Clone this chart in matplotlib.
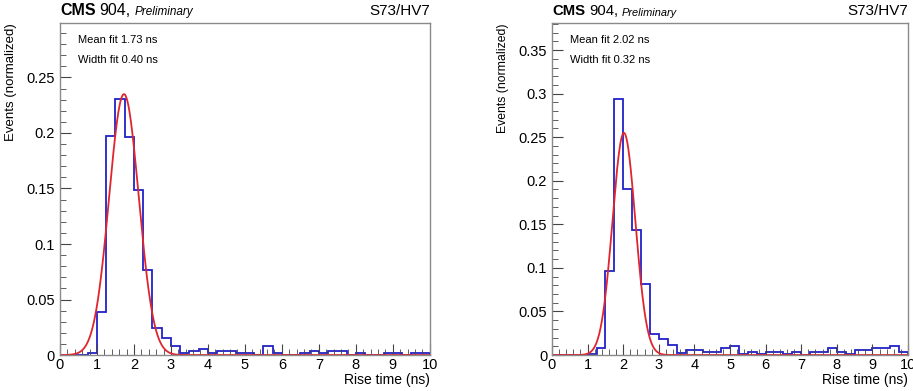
"""Rise-time distributions with gaussian fits (two sensors, S73/HV7)."""
import numpy as np
import matplotlib
matplotlib.use("Agg")
import matplotlib.pyplot as plt
from matplotlib.ticker import MultipleLocator
from matplotlib.transforms import offset_copy

plt.rcParams["font.family"] = ["Liberation Sans", "DejaVu Sans"]

# --- data: 40 bins of 0.25 ns from 0 to 10 ns ---
bin_edges = np.linspace(0, 10, 41)

left_counts = [
    0, 0, 0, 0.0015, 0.0385, 0.197, 0.2305, 0.196,
    0.149, 0.0766, 0.024, 0.0156, 0.0081, 0.0021, 0.0036, 0.0057,
    0.0015, 0.0036, 0.0036, 0.0015, 0.0015, 0, 0.0078, 0.0015,
    0, 0, 0.0015, 0.0036, 0.0015, 0.0036, 0.0036, 0,
    0.0015, 0, 0, 0.0015, 0.0015, 0, 0.0015, 0.0015,
]
right_counts = [
    0, 0, 0, 0, 0.0015, 0.0084, 0.0967, 0.294,
    0.190, 0.144, 0.081, 0.024, 0.018, 0.0118, 0.002, 0.0057,
    0.0057, 0.0038, 0.0038, 0.008, 0.0105, 0.0015, 0.0038, 0.0015,
    0.0038, 0.0038, 0.0015, 0.0038, 0, 0.0038, 0.0038, 0.0075,
    0.0038, 0.0015, 0.0057, 0.0057, 0.0075, 0.0075, 0.0105, 0.0038,
]

# gaussian fit parameters (amplitude, mean, sigma)
left_fit = (0.235, 1.73, 0.40)
right_fit = (0.255, 2.02, 0.32)

left_ymax = 0.299
right_ymax = 0.381

# per panel: counts, fit, ymax, axes rect, font scale
panels = [
    (left_counts, left_fit, left_ymax, [0.0657, 0.092, 0.405, 0.849], 1.0),
    (right_counts, right_fit, right_ymax, [0.6046, 0.092, 0.390, 0.849], 0.93),
]

HIST_COLOR = "#2222c8"
FIT_COLOR = "#e0252f"
FRAME_COLOR = "#8a8a8a"

fig = plt.figure(figsize=(9.13, 3.91), dpi=100)
renderer = fig.canvas.get_renderer()


def chain_text(ax, parts, y=1.015):
    """Place text pieces one after another along the top of the axes."""
    trans = ax.transAxes
    dx = 0.0
    for s, gap, kw in parts:
        t = ax.text(0.0, y, s, transform=offset_copy(trans, fig=fig, x=dx, units="dots"),
                    ha="left", va="bottom", **kw)
        dx += t.get_window_extent(renderer).width + gap


for counts, (amp, mu, sig), ymax, rect, fs in panels:
    ax = fig.add_axes(rect)
    ax.stairs(counts, bin_edges, color=HIST_COLOR, lw=1.3)
    xs = np.linspace(0, 10, 800)
    ax.plot(xs, amp * np.exp(-0.5 * ((xs - mu) / sig) ** 2), color=FIT_COLOR, lw=1.3)

    ax.set_xlim(0, 10)
    ax.set_ylim(0, ymax)
    ax.xaxis.set_major_locator(MultipleLocator(1))
    ax.xaxis.set_minor_locator(MultipleLocator(0.2))
    ax.yaxis.set_major_locator(MultipleLocator(0.05))
    ax.yaxis.set_minor_locator(MultipleLocator(0.01))
    ax.yaxis.set_major_formatter(plt.FuncFormatter(lambda v, p: f"{v:g}"))
    ax.tick_params(which="both", direction="in", top=False, right=False,
                   color="#444444", labelsize=10.5)
    ax.tick_params(which="major", length=8)
    ax.tick_params(which="minor", length=4)
    ax.tick_params(axis="x", pad=2)
    for s in ax.spines.values():
        s.set_color(FRAME_COLOR)
        s.set_linewidth(1.0)

    ax.set_xlabel("Rise time (ns)", fontsize=10, loc="right", labelpad=1)
    ax.set_ylabel("Events (normalized)", fontsize=9.5 * fs, loc="top", labelpad=7)

    chain_text(ax, [
        ("CMS", 4 * fs, dict(fontsize=11.5 * fs, fontweight="bold")),
        ("904,", 4 * fs, dict(fontsize=11.5 * fs)),
        ("Preliminary", 0, dict(fontsize=8.5 * fs, style="italic")),
    ])
    ax.text(1.0, 1.015, "S73/HV7", transform=ax.transAxes, fontsize=11,
            ha="right", va="bottom")

    ax.text(0.05, 0.95, f"Mean fit {mu:.2f} ns", transform=ax.transAxes,
            fontsize=8, ha="left", va="center")
    ax.text(0.05, 0.89, f"Width fit {sig:.2f} ns", transform=ax.transAxes,
            fontsize=8, ha="left", va="center")

fig.savefig("out.png", dpi=100)
